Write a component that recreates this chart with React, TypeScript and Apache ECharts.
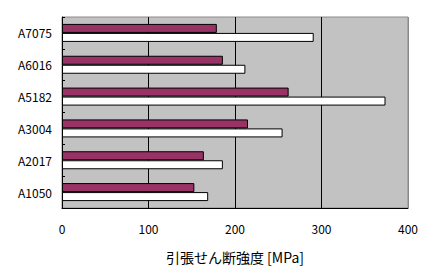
import React, { useEffect, useRef } from "react";
import * as echarts from "echarts";

const categories = ["A1050", "A2017", "A3004", "A5182", "A6016", "A7075"];
const seriesA = [153, 164, 215, 262, 186, 179]; // maroon
const seriesB = [169, 186, 255, 374, 212, 291]; // white
const xTicks = [0, 100, 200, 300, 400];
const axisTitle = "引張せん断強度 [MPa]";

export default function App() {
  const ref = useRef<HTMLDivElement>(null);
  useEffect(() => {
    if (!ref.current) return;
    const chart = echarts.init(ref.current, undefined, { renderer: "svg" });
    const font = "'Noto Sans CJK JP', 'DejaVu Sans', sans-serif";
    chart.setOption({
      animation: false,
      backgroundColor: "#ffffff",
      grid: {
        left: 62,
        right: 27,
        top: 17,
        bottom: 68,
        show: true,
        backgroundColor: "#c2c2c2",
        borderWidth: 1,
        borderColor: "#8a8a8a",
      },
      xAxis: {
        type: "value",
        min: xTicks[0],
        max: xTicks[xTicks.length - 1],
        interval: 100,
        name: axisTitle,
        nameLocation: "middle",
        nameGap: 42,
        nameTextStyle: { color: "#000", fontSize: 14, fontFamily: font },
        axisLine: { show: true, lineStyle: { color: "#000", width: 1 } },
        axisTick: { show: false },
        axisLabel: { color: "#000", fontSize: 12, fontFamily: font, margin: 14 },
        splitLine: {
          show: true,
          lineStyle: { color: ["#000", "#000", "#000", "#000", "#8a8a8a"], width: 1 },
        },
      },
      yAxis: {
        type: "category",
        data: categories,
        axisLine: { show: true, lineStyle: { color: "#000", width: 1 } },
        axisTick: { show: true, inside: true, length: 3, lineStyle: { color: "#000" } },
        axisLabel: { color: "#000", fontSize: 12, fontFamily: font, margin: 10 },
        splitLine: { show: false },
      },
      series: [
        {
          type: "bar",
          data: seriesA,
          barWidth: 9,
          barGap: "0%",
          itemStyle: { color: "#993366", borderColor: "#000", borderWidth: 1 },
        },
        {
          type: "bar",
          data: seriesB,
          barWidth: 9,
          barGap: "0%",
          itemStyle: { color: "#ffffff", borderColor: "#000", borderWidth: 1 },
        },
      ],
    });
    return () => chart.dispose();
  }, []);
  return (
    <div
      ref={ref}
      style={{ position: "fixed", left: 0, top: 0, width: 435, height: 276 }}
    />
  );
}
